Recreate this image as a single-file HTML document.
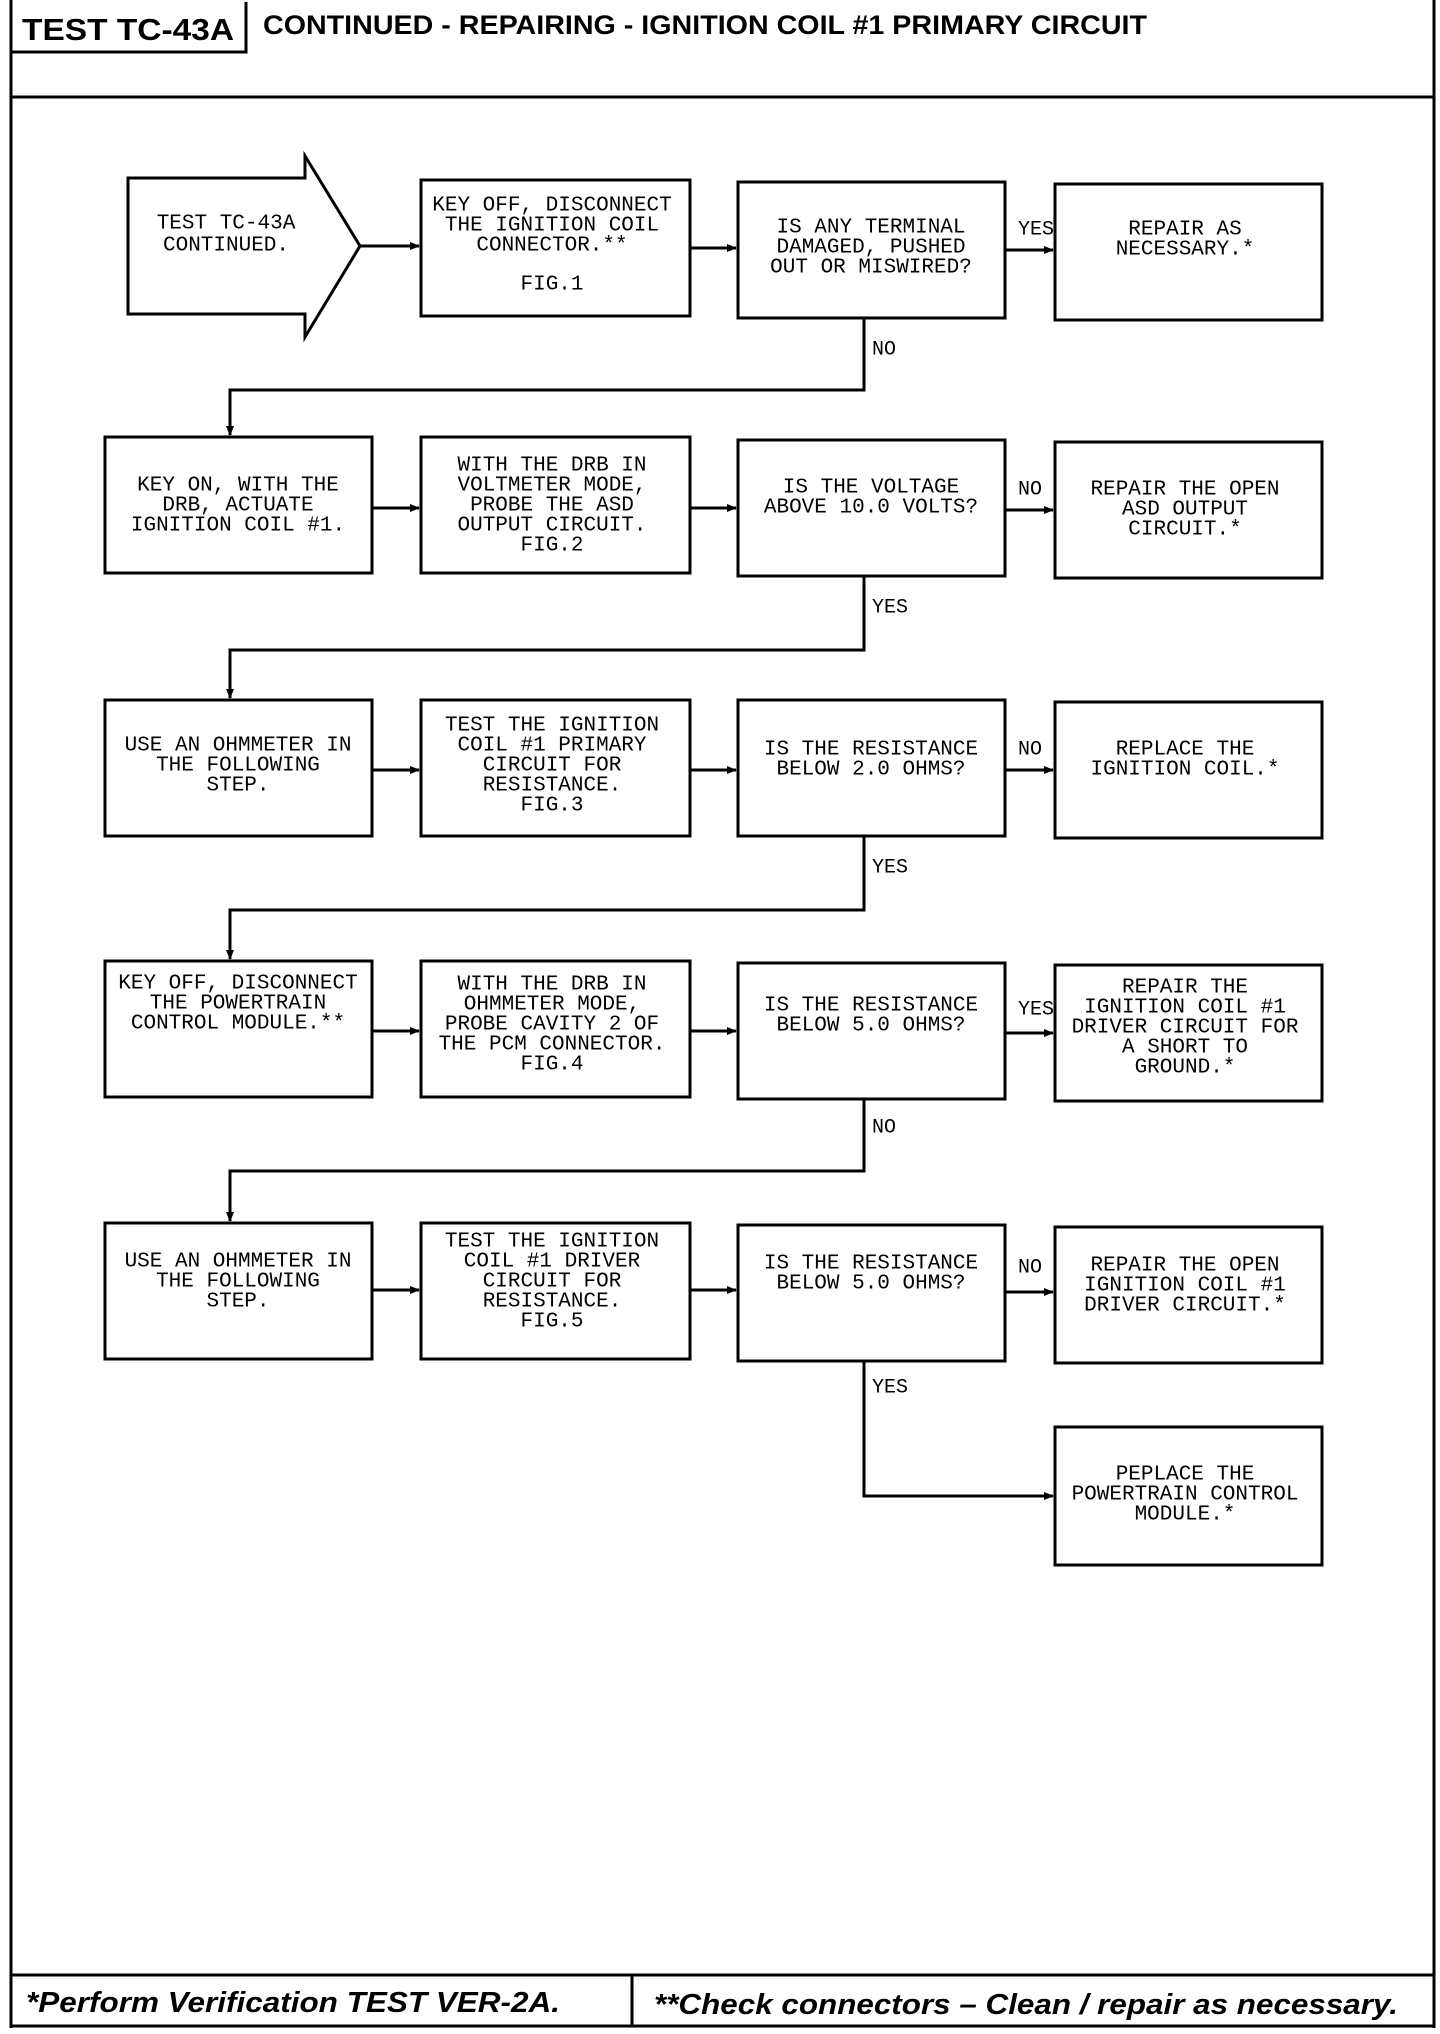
<!DOCTYPE html>
<html><head><meta charset="utf-8"><style>
html,body{margin:0;padding:0;background:#fff;}
svg{display:block;}
.t{font-family:"Liberation Mono",monospace;font-size:21px;fill:#000;text-anchor:middle;dominant-baseline:central;}
.l{font-family:"Liberation Mono",monospace;font-size:20px;fill:#000;dominant-baseline:central;}
</style></head><body>
<svg width="1440" height="2034" viewBox="0 0 1440 2034" xmlns="http://www.w3.org/2000/svg">
<defs><marker id="a" markerWidth="10" markerHeight="10" refX="9" refY="5" orient="auto" markerUnits="userSpaceOnUse"><path d="M0,1 L10,5 L0,9 Z" fill="#000"/></marker></defs>
<g fill="none" stroke="#000" stroke-width="3">
<!-- frame -->
<line x1="11" y1="0" x2="11" y2="2028"/>
<line x1="1434" y1="0" x2="1434" y2="2028"/>
<line x1="11" y1="97" x2="1434" y2="97"/>
<polyline points="11,52 246,52 246,2"/>
<line x1="11" y1="1975" x2="1434" y2="1975"/>
<line x1="11" y1="2026" x2="1434" y2="2026"/>
<line x1="632" y1="1975" x2="632" y2="2026"/>
<!-- start arrow -->
<polygon points="128,178 305,178 305,156 360,246 305,337 305,314 128,314"/>
<!-- boxes -->
<rect x="421" y="180" width="269" height="136"/>
<rect x="738" y="182" width="267" height="136"/>
<rect x="1055" y="184" width="267" height="136"/>
<rect x="105" y="437" width="267" height="136"/>
<rect x="421" y="437" width="269" height="136"/>
<rect x="738" y="440" width="267" height="136"/>
<rect x="1055" y="442" width="267" height="136"/>
<rect x="105" y="700" width="267" height="136"/>
<rect x="421" y="700" width="269" height="136"/>
<rect x="738" y="700" width="267" height="136"/>
<rect x="1055" y="702" width="267" height="136"/>
<rect x="105" y="961" width="267" height="136"/>
<rect x="421" y="961" width="269" height="136"/>
<rect x="738" y="963" width="267" height="136"/>
<rect x="1055" y="965" width="267" height="136"/>
<rect x="105" y="1223" width="267" height="136"/>
<rect x="421" y="1223" width="269" height="136"/>
<rect x="738" y="1225" width="267" height="136"/>
<rect x="1055" y="1227" width="267" height="136"/>
<rect x="1055" y="1427" width="267" height="138"/>
</g>
<g fill="none" stroke="#000" stroke-width="3" marker-end="url(#a)">
<line x1="360" y1="246" x2="419" y2="246"/>
<line x1="690" y1="248" x2="736" y2="248"/>
<line x1="1005" y1="250" x2="1053" y2="250"/>
<polyline points="864,318 864,390 230,390 230,435"/>
<line x1="372" y1="508" x2="419" y2="508"/>
<line x1="690" y1="508" x2="736" y2="508"/>
<line x1="1005" y1="510" x2="1053" y2="510"/>
<polyline points="864,576 864,650 230,650 230,698"/>
<line x1="372" y1="770" x2="419" y2="770"/>
<line x1="690" y1="770" x2="736" y2="770"/>
<line x1="1005" y1="770" x2="1053" y2="770"/>
<polyline points="864,836 864,910 230,910 230,959"/>
<line x1="372" y1="1031" x2="419" y2="1031"/>
<line x1="690" y1="1031" x2="736" y2="1031"/>
<line x1="1005" y1="1033" x2="1053" y2="1033"/>
<polyline points="864,1099 864,1171 230,1171 230,1221"/>
<line x1="372" y1="1290" x2="419" y2="1290"/>
<line x1="690" y1="1290" x2="736" y2="1290"/>
<line x1="1005" y1="1292" x2="1053" y2="1292"/>
<polyline points="864,1361 864,1496 1053,1496"/>
</g>
<!-- header -->
<text x="22" y="40" font-family="Liberation Sans,sans-serif" font-weight="bold" font-size="31" textLength="212" lengthAdjust="spacingAndGlyphs">TEST TC-43A</text>
<text x="263" y="34" font-family="Liberation Sans,sans-serif" font-weight="bold" font-size="27" textLength="884" lengthAdjust="spacingAndGlyphs">CONTINUED - REPAIRING - IGNITION COIL #1 PRIMARY CIRCUIT</text>
<text x="26" y="2012" font-family="Liberation Sans,sans-serif" font-weight="bold" font-style="italic" font-size="29" textLength="534" lengthAdjust="spacingAndGlyphs">*Perform Verification TEST VER-2A.</text>
<text x="654" y="2014" font-family="Liberation Sans,sans-serif" font-weight="bold" font-style="italic" font-size="29" textLength="744" lengthAdjust="spacingAndGlyphs">**Check connectors – Clean / repair as necessary.</text>
<!-- labels -->
<text class="l" x="1018" y="230">YES</text>
<text class="l" x="872" y="350">NO</text>
<text class="l" x="1018" y="490">NO</text>
<text class="l" x="872" y="608">YES</text>
<text class="l" x="1018" y="750">NO</text>
<text class="l" x="872" y="868">YES</text>
<text class="l" x="1018" y="1010">YES</text>
<text class="l" x="872" y="1128">NO</text>
<text class="l" x="1018" y="1268">NO</text>
<text class="l" x="872" y="1388">YES</text>
<!-- box texts -->
<g class="t">
<text class="t" x="226" y="224">TEST TC-43A</text>
<text class="t" x="226" y="246">CONTINUED.</text>

<text class="t" x="552" y="206">KEY OFF, DISCONNECT</text>
<text class="t" x="552" y="226">THE IGNITION COIL</text>
<text class="t" x="552" y="246">CONNECTOR.**</text>
<text class="t" x="552" y="285">FIG.1</text>

<text class="t" x="871" y="228">IS ANY TERMINAL</text>
<text class="t" x="871" y="248">DAMAGED, PUSHED</text>
<text class="t" x="871" y="268">OUT OR MISWIRED?</text>

<text class="t" x="1185" y="230">REPAIR AS</text>
<text class="t" x="1185" y="250">NECESSARY.*</text>

<text class="t" x="238" y="486">KEY ON, WITH THE</text>
<text class="t" x="238" y="506">DRB, ACTUATE</text>
<text class="t" x="238" y="526">IGNITION COIL #1.</text>

<text class="t" x="552" y="466">WITH THE DRB IN</text>
<text class="t" x="552" y="486">VOLTMETER MODE,</text>
<text class="t" x="552" y="506">PROBE THE ASD</text>
<text class="t" x="552" y="526">OUTPUT CIRCUIT.</text>
<text class="t" x="552" y="546">FIG.2</text>

<text class="t" x="871" y="488">IS THE VOLTAGE</text>
<text class="t" x="871" y="508">ABOVE 10.0 VOLTS?</text>

<text class="t" x="1185" y="490">REPAIR THE OPEN</text>
<text class="t" x="1185" y="510">ASD OUTPUT</text>
<text class="t" x="1185" y="530">CIRCUIT.*</text>

<text class="t" x="238" y="746">USE AN OHMMETER IN</text>
<text class="t" x="238" y="766">THE FOLLOWING</text>
<text class="t" x="238" y="786">STEP.</text>

<text class="t" x="552" y="726">TEST THE IGNITION</text>
<text class="t" x="552" y="746">COIL #1 PRIMARY</text>
<text class="t" x="552" y="766">CIRCUIT FOR</text>
<text class="t" x="552" y="786">RESISTANCE.</text>
<text class="t" x="552" y="806">FIG.3</text>

<text class="t" x="871" y="750">IS THE RESISTANCE</text>
<text class="t" x="871" y="770">BELOW 2.0 OHMS?</text>

<text class="t" x="1185" y="750">REPLACE THE</text>
<text class="t" x="1185" y="770">IGNITION COIL.*</text>

<text class="t" x="238" y="984">KEY OFF, DISCONNECT</text>
<text class="t" x="238" y="1004">THE POWERTRAIN</text>
<text class="t" x="238" y="1024">CONTROL MODULE.**</text>

<text class="t" x="552" y="985">WITH THE DRB IN</text>
<text class="t" x="552" y="1005">OHMMETER MODE,</text>
<text class="t" x="552" y="1025">PROBE CAVITY 2 OF</text>
<text class="t" x="552" y="1045">THE PCM CONNECTOR.</text>
<text class="t" x="552" y="1065">FIG.4</text>

<text class="t" x="871" y="1006">IS THE RESISTANCE</text>
<text class="t" x="871" y="1026">BELOW 5.0 OHMS?</text>

<text class="t" x="1185" y="988">REPAIR THE</text>
<text class="t" x="1185" y="1008">IGNITION COIL #1</text>
<text class="t" x="1185" y="1028">DRIVER CIRCUIT FOR</text>
<text class="t" x="1185" y="1048">A SHORT TO</text>
<text class="t" x="1185" y="1068">GROUND.*</text>

<text class="t" x="238" y="1262">USE AN OHMMETER IN</text>
<text class="t" x="238" y="1282">THE FOLLOWING</text>
<text class="t" x="238" y="1302">STEP.</text>

<text class="t" x="552" y="1242">TEST THE IGNITION</text>
<text class="t" x="552" y="1262">COIL #1 DRIVER</text>
<text class="t" x="552" y="1282">CIRCUIT FOR</text>
<text class="t" x="552" y="1302">RESISTANCE.</text>
<text class="t" x="552" y="1322">FIG.5</text>

<text class="t" x="871" y="1264">IS THE RESISTANCE</text>
<text class="t" x="871" y="1284">BELOW 5.0 OHMS?</text>

<text class="t" x="1185" y="1266">REPAIR THE OPEN</text>
<text class="t" x="1185" y="1286">IGNITION COIL #1</text>
<text class="t" x="1185" y="1306">DRIVER CIRCUIT.*</text>

<text class="t" x="1185" y="1475">PEPLACE THE</text>
<text class="t" x="1185" y="1495">POWERTRAIN CONTROL</text>
<text class="t" x="1185" y="1515">MODULE.*</text>
</g>
</svg>
</body></html>
